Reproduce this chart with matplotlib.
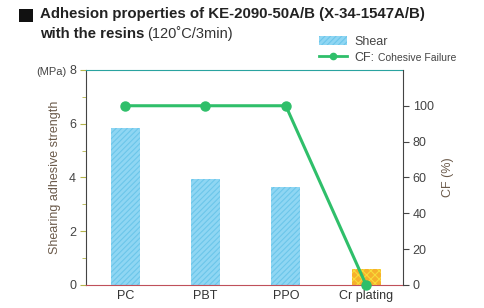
import numpy as np
import matplotlib
matplotlib.use("Agg")
import matplotlib.pyplot as plt
from matplotlib.patches import Rectangle, Patch
from matplotlib.lines import Line2D

plt.rcParams['font.family'] = ['Liberation Sans', 'DejaVu Sans']
plt.rcParams['hatch.linewidth'] = 0.8

# data
materials = ['PC', 'PBT', 'PPO', 'Cr plating']
shear = [5.85, 3.95, 3.65, 0.6]      # MPa
cf = [100, 100, 100, 0]              # %

x = np.arange(len(materials))

fig = plt.figure(figsize=(4.85, 3.08), dpi=100)
ax = fig.add_axes([0.177, 0.075, 0.654, 0.698])

# bars: blue hatched for resins, orange checker for Cr plating
bar_fc = ['#8fd6f3', '#8fd6f3', '#8fd6f3', '#f6b02c']
bar_ec = ['#6cc6ea', '#6cc6ea', '#6cc6ea', '#f7dc3a']
bar_hatch = ['//////', '//////', '//////', 'xxxx']
for i in range(len(materials)):
    ax.bar(x[i], shear[i], width=0.36, color=bar_fc[i], edgecolor=bar_ec[i],
           hatch=bar_hatch[i], linewidth=0)

ax.set_xlim(-0.49, 3.46)
ax.set_ylim(0, 8)
ax.set_yticks([0, 2, 4, 6, 8])
ax.set_yticks([1, 3, 5, 7], minor=True)
ax.set_xticks(x)
ax.set_xticklabels(materials, fontsize=9, color='#333333')
ax.tick_params(axis='x', length=0, pad=4)
ax.tick_params(axis='y', which='major', length=4, color='#b5b54a', labelsize=9,
               labelcolor='#444444', pad=3)
ax.tick_params(axis='y', which='minor', length=3, color='#b5b54a')
ax.set_ylabel('Shearing adhesive strength', fontsize=9, color='#6b5a4a', labelpad=6)

ax.spines['left'].set_color('#444444')
ax.spines['top'].set_color('#2aa3a0')
ax.spines['bottom'].set_color('#c0505a')
ax.spines['right'].set_visible(False)

# CF line on right axis
ax2 = ax.twinx()
ax2.plot(x, cf, color='#2fbf6a', lw=2.2, marker='o', ms=6.5, clip_on=False, zorder=5)
ax2.set_ylim(0, 120)
ax2.set_yticks([0, 20, 40, 60, 80, 100])
ax2.tick_params(axis='y', length=4, color='#444444', labelsize=9,
                labelcolor='#444444', pad=3)
ax2.set_ylabel('CF (%)', fontsize=9, color='#6b5a4a', labelpad=6)
ax2.spines['right'].set_color('#444444')
for s in ['top', 'bottom', 'left']:
    ax2.spines[s].set_visible(False)

fig.text(0.074, 0.765, '(MPa)', fontsize=8, color='#444444', ha='left', va='center')

# title
fig.patches.append(Rectangle((0.039, 0.93), 0.029, 0.041, transform=fig.transFigure,
                             facecolor='#111111', edgecolor='none'))
fig.text(0.082, 0.953, 'Adhesion properties of KE-2090-50A/B (X-34-1547A/B)',
         fontsize=10.8, fontweight='bold', color='#222222', va='center')
fig.text(0.082, 0.891, 'with the resins', fontsize=10.8, fontweight='bold',
         color='#222222', va='center')
fig.text(0.304, 0.891, '(120\u02daC/3min)', fontsize=10.5, color='#333333', va='center')

# legend
handles = [Patch(facecolor='#8fd6f3', edgecolor='#6cc6ea', hatch='//////', linewidth=0),
           Line2D([], [], color='#2fbf6a', lw=2, marker='o', ms=4.5)]
leg = fig.legend(handles, ['Shear', 'CF:'], loc='upper left',
                 bbox_to_anchor=(0.645, 0.905), frameon=False, fontsize=9,
                 handlelength=2.2, handleheight=0.8, handletextpad=0.6,
                 labelspacing=0.3, borderpad=0, labelcolor='#444444')

# smaller "Cohesive Failure" right after "CF:" on the same baseline
fig.canvas.draw()
cf_txt = leg.get_texts()[1]
bb = cf_txt.get_window_extent()
x0, y0 = fig.transFigure.inverted().transform((bb.x1 + 4, bb.y0))
y_base = fig.transFigure.inverted().transform((0, bb.y0 + 0.22 * bb.height))[1]
fig.text(x0, y_base, 'Cohesive Failure', fontsize=7.5, color='#444444', va='baseline')

fig.savefig('out.png', dpi=100)
